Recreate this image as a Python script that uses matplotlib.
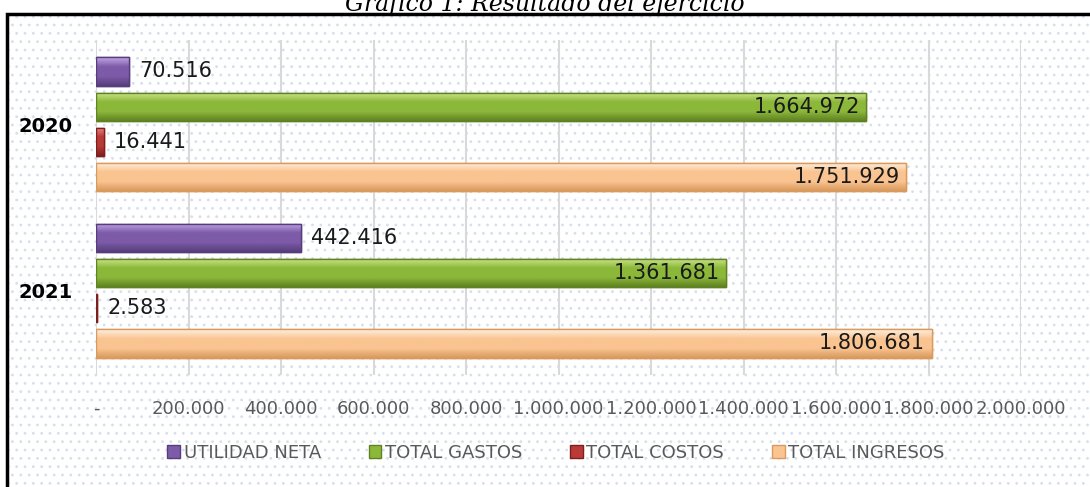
import matplotlib.pyplot as plt
import matplotlib.patches as mpatches
import matplotlib.colors as mcolors
import numpy as np

years = ['2020', '2021']
series = ['UTILIDAD NETA', 'TOTAL GASTOS', 'TOTAL COSTOS', 'TOTAL INGRESOS']
utilidad_neta = [70516, 442416]
total_gastos = [1664972, 1361681]
total_costos = [16441, 2583]
total_ingresos = [1751929, 1806681]
xticks = [0, 200000, 400000, 600000, 800000, 1000000, 1200000, 1400000, 1600000, 1800000, 2000000]

values = [utilidad_neta, total_gastos, total_costos, total_ingresos]
# (light, mid, dark) for the fake 3D shading
shades = [('#c3a6e6', '#7d5ba8', '#563d7c'),
          ('#cfe88e', '#8cb83a', '#5f8222'),
          ('#e88a88', '#b93a37', '#7c1f1d'),
          ('#fff0e0', '#fac491', '#d99a5e')]
inside = [False, True, False, True]

def fmt(v):
    return f'{v:,}'.replace(',', '.')

plt.rcParams['hatch.linewidth'] = 0.8
fig = plt.figure(figsize=(10.9, 4.87), dpi=100)

# dotted background + black frame
bg = mpatches.Rectangle((0.006, 0.0), 1.0, 0.971, transform=fig.transFigure,
                        facecolor='white', edgecolor='#d5dfee', hatch='..', lw=0, zorder=-5)
fig.patches.append(bg)
frame = mpatches.Rectangle((0.006, -0.01), 1.1, 0.981, transform=fig.transFigure,
                           facecolor='none', edgecolor='black', lw=2.5, zorder=10)
fig.patches.append(frame)

fig.text(0.5, 0.993, 'Gráfico 1: Resultado del ejercicio', ha='center', va='center',
         fontsize=17, style='italic', family='DejaVu Serif')

ax = fig.add_axes([0.0881, 0.23, 0.8486, 0.688])
ax.set_facecolor('none')

n = len(series)
h = 0.169
step = 0.211
ypos = np.arange(len(years))

handles = []
for k in range(n):
    off = (k - (n - 1) / 2) * step
    light, mid, dark = shades[k]
    bars = ax.barh(ypos + off, values[k], height=h, color=mid, edgecolor=dark, lw=1.0,
                   zorder=3, label=series[k])
    cmap = mcolors.LinearSegmentedColormap.from_list('g', [light, mid, mid, dark])
    grad = np.linspace(0, 1, 64).reshape(-1, 1)
    for b in bars:
        x0, y0 = b.get_x(), b.get_y()
        w, hh = b.get_width(), b.get_height()
        im = ax.imshow(grad, cmap=cmap, aspect='auto', extent=(x0, x0 + w, y0 + hh, y0),
                       zorder=3.5, origin='upper')
        im.set_clip_path(b)
        ax.add_patch(mpatches.Rectangle((x0, y0), w, hh, facecolor='none',
                                        edgecolor=dark, lw=1.0, zorder=4))
    for b, v in zip(bars, values[k]):
        yc = b.get_y() + b.get_height() / 2
        if inside[k]:
            ax.text(v - 14000, yc, fmt(v), ha='right', va='center', fontsize=15,
                    color='#1a1a1a', zorder=6)
        else:
            ax.text(v + 22000, yc, fmt(v), ha='left', va='center', fontsize=15,
                    color='#1a1a1a', zorder=6)
    handles.append(mpatches.Patch(facecolor=mid, edgecolor=dark, label=series[k]))

ax.set_xlim(0, 2000000)
ax.set_ylim(1.506, -0.506)
ax.set_xticks(xticks)
ax.set_xticklabels(['-'] + [fmt(t) for t in xticks[1:]])
ax.set_yticks(ypos)
ax.set_yticklabels(years, fontweight='bold', fontsize=14)
ax.tick_params(axis='x', length=0, labelsize=13, labelcolor='#595959', pad=18)
ax.tick_params(axis='y', length=0, pad=17)
ax.grid(axis='x', color='#d9d9d9', lw=1.5, zorder=0)
for s in ax.spines.values():
    s.set_visible(False)

fig.legend(handles=handles, loc='center', bbox_to_anchor=(0.51, 0.07), ncol=4,
           frameon=False, fontsize=13, labelcolor='#595959', handlelength=0.7,
           handleheight=0.7, handletextpad=0.2, columnspacing=2.65)

fig.savefig('out.png', dpi=100)
